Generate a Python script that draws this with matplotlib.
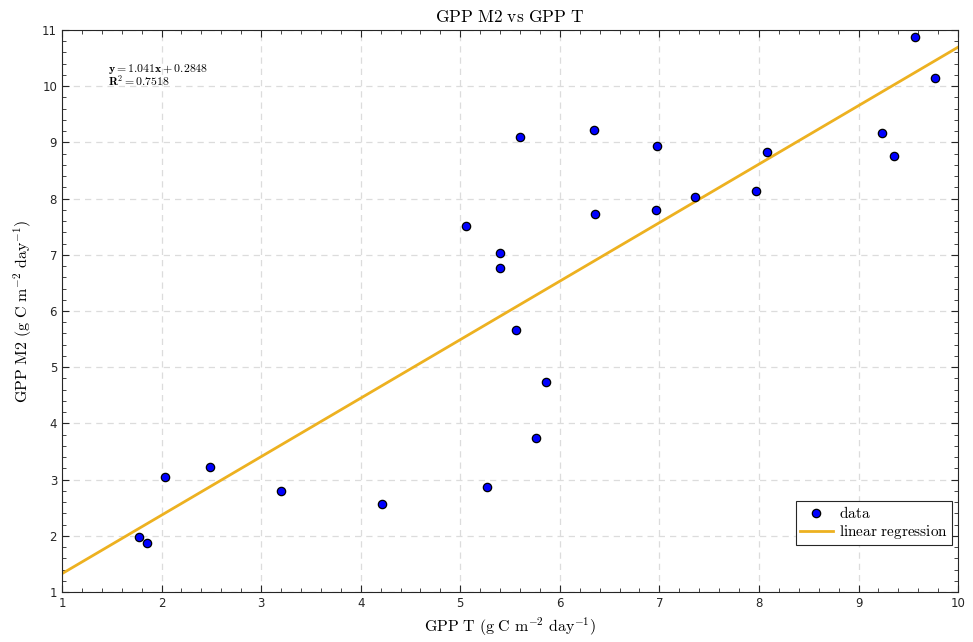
import numpy as np
import matplotlib.pyplot as plt
from matplotlib.ticker import MultipleLocator

plt.rcParams['mathtext.fontset'] = 'cm'

# GPP from tower (x) vs model M2 (y)
gpp_t = [1.77, 1.85, 2.03, 2.49, 3.20, 4.21, 5.27, 5.06, 5.40, 5.40,
         5.56, 5.60, 5.76, 5.86, 6.34, 6.35, 6.97, 6.98, 7.36, 7.97,
         8.08, 9.24, 9.36, 9.57, 9.77]
gpp_m2 = [1.98, 1.87, 3.05, 3.22, 2.79, 2.56, 2.86, 7.51, 7.03, 6.77,
          5.66, 9.09, 3.74, 4.73, 9.22, 7.73, 7.80, 8.94, 8.03, 8.14,
          8.82, 9.17, 8.76, 10.88, 10.15]

slope = 1.041
intercept = 0.2848
r2 = 0.7518

fig = plt.figure(figsize=(9.73, 6.42), dpi=100)
ax = fig.add_axes([0.0637, 0.0779, 0.921, 0.8754])

xx = np.array([1, 10])
ax.plot(xx, slope * xx + intercept, color='#EDB120', lw=2.0, zorder=2,
        label='linear regression')
ax.plot(gpp_t, gpp_m2, 'o', ms=6, mfc='#0000FF', mec='black', mew=0.9,
        zorder=3, label='data')

ax.set_xlim(1, 10)
ax.set_ylim(1, 11)
ax.xaxis.set_major_locator(MultipleLocator(1))
ax.yaxis.set_major_locator(MultipleLocator(1))
ax.xaxis.set_minor_locator(MultipleLocator(0.2))
ax.yaxis.set_minor_locator(MultipleLocator(0.2))
ax.tick_params(which='both', direction='in', top=True, right=True,
               colors='#262626', labelsize=8.5)
ax.tick_params(which='major', length=5)
ax.tick_params(which='minor', length=3)
ax.grid(True, which='major', ls=(0, (5, 4)), color='#dcdcdc', lw=0.9)
ax.set_axisbelow(True)
for s in ax.spines.values():
    s.set_color('#262626')
    s.set_linewidth(0.8)

ax.set_title(r'$\mathrm{GPP\ M2\ vs\ GPP\ T}$', fontsize=12.5, pad=6)
ax.set_xlabel(r'$\mathrm{GPP\ T\ (g\ C\ m^{-2}\ day^{-1})}$', fontsize=11.5, labelpad=4)
ax.set_ylabel(r'$\mathrm{GPP\ M2\ (g\ C\ m^{-2}\ day^{-1})}$', fontsize=11.5, labelpad=6)

ax.text(0.051, 0.93, r'$\mathbf{y = %.3fx + %.4f}$' % (slope, intercept),
        transform=ax.transAxes, fontsize=8.5, va='center')
ax.text(0.051, 0.907, r'$\mathbf{R^2 = %.4f}$' % r2,
        transform=ax.transAxes, fontsize=8.5, va='center')

h, l = ax.get_legend_handles_labels()
leg = ax.legend(h[::-1], [r'$\mathrm{data}$', r'$\mathrm{linear\ regression}$'],
                loc='lower right', bbox_to_anchor=(0.9933, 0.0836),
                borderaxespad=0, fontsize=11, fancybox=False, framealpha=1,
                edgecolor='#262626', handlelength=2.2, borderpad=0.25,
                labelspacing=0.15, handletextpad=0.4)
leg.get_frame().set_linewidth(0.8)

fig.savefig('out.png', dpi=100)
